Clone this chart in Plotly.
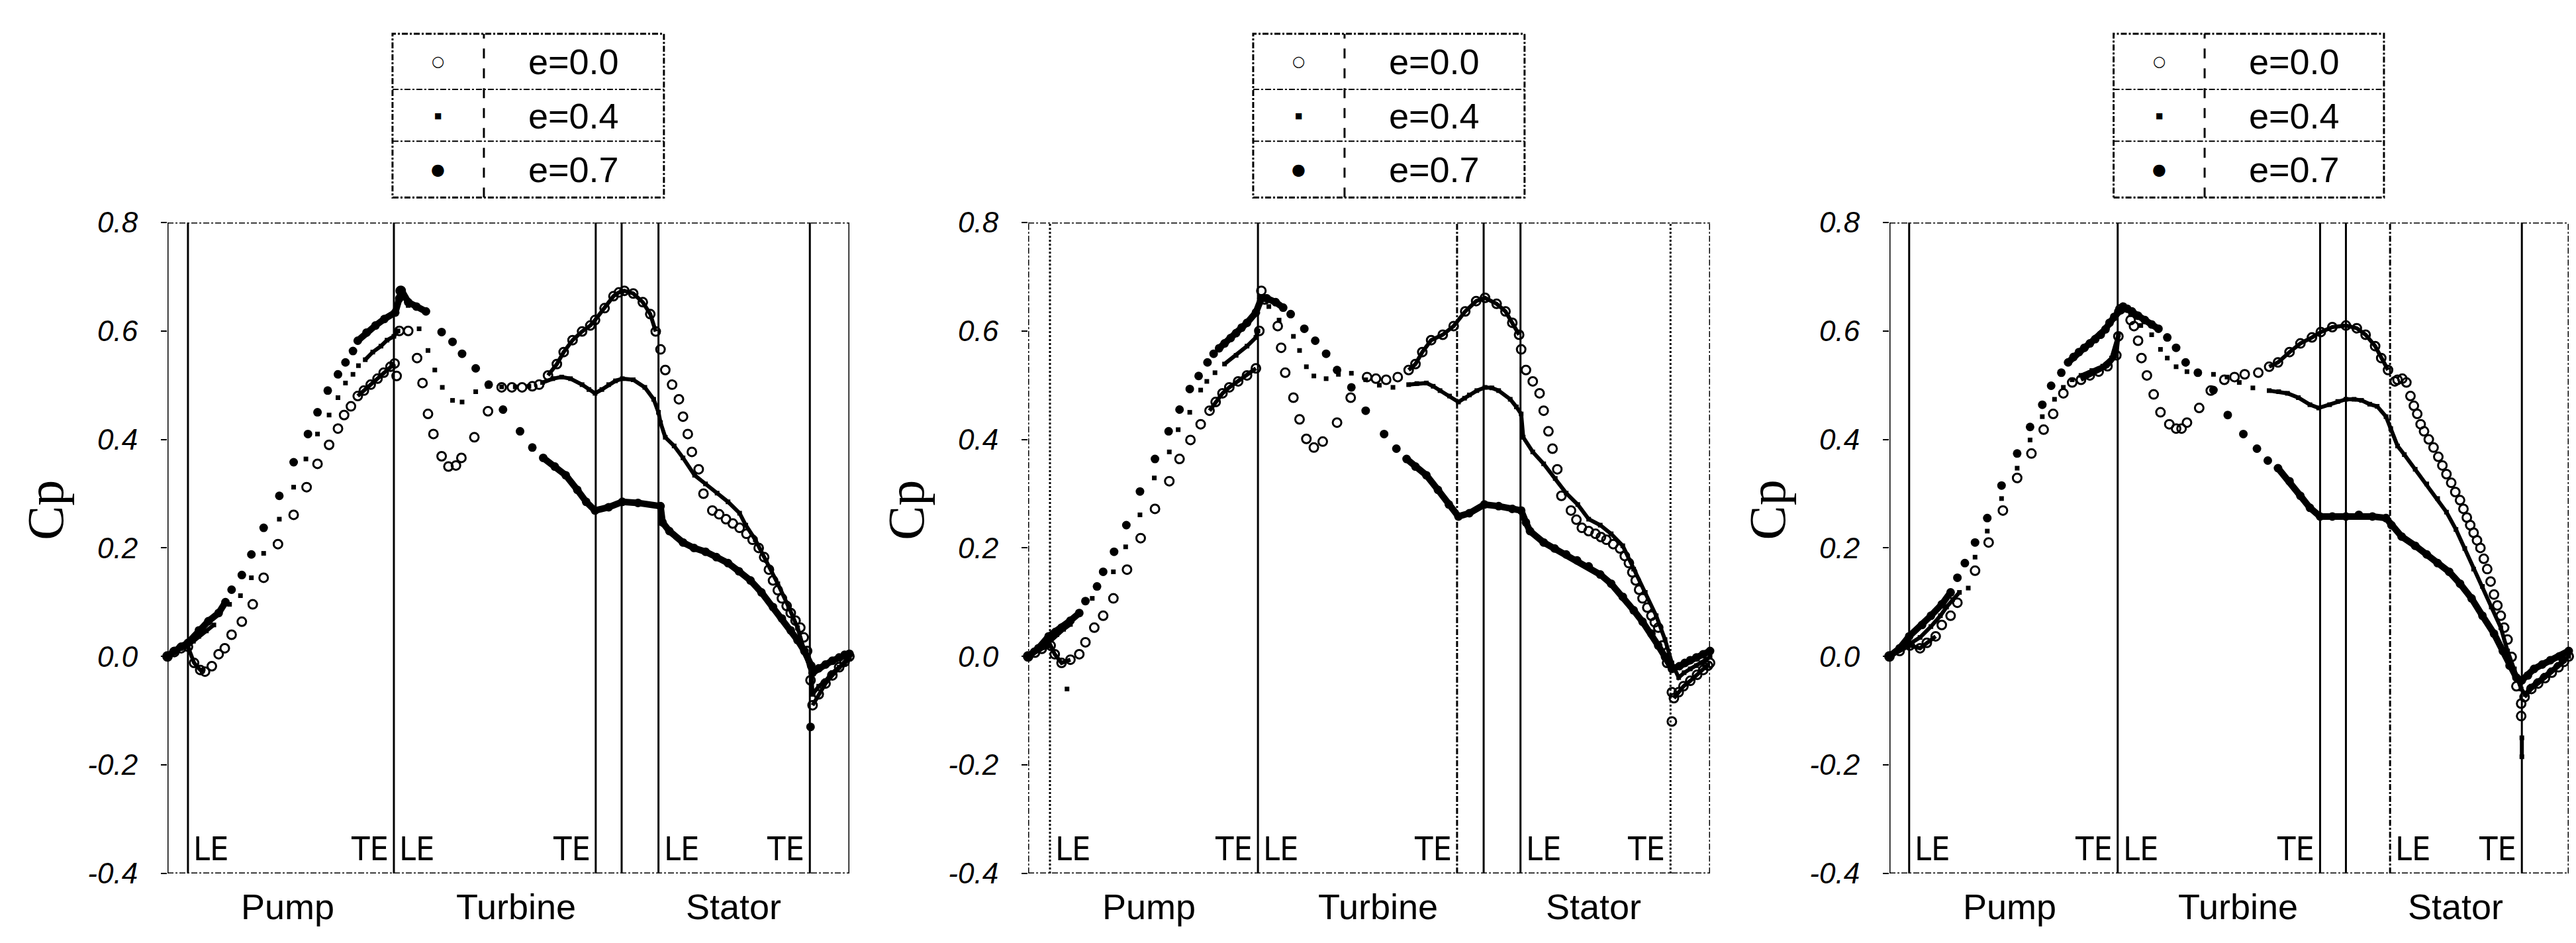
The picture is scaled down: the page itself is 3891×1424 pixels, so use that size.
import plotly.graph_objects as go

# ---------------- data (x = position along flow path, 0..100 ; y = Cp) ----------------
SERIES_NAMES = ["e=0.0", "e=0.4", "e=0.7"]
YTICK_VALS = [0.8, 0.6, 0.4, 0.2, 0.0, -0.2, -0.4]
YTICK_TEXT = ["0.8", "0.6", "0.4", "0.2", "0.0", "-0.2", "-0.4"]
REGION_NAMES = ["Pump", "Turbine", "Stator"]

P1_E00 = [(0,0.0),(1,0.008),(2,0.015),(3,0.018),(3.9,-0.012),(4.8,-0.025),(5.5,-0.028),(6.5,-0.018),(7.5,0.004),(8.4,0.015),(9.4,0.04),(10.9,0.064),(12.5,0.096),(14.1,0.145),(16.2,0.207),(18.5,0.261),(20.4,0.312),(22.0,0.355),(23.7,0.39),(25.0,0.42),(25.9,0.445),(26.9,0.461),(27.9,0.48),(28.8,0.49),(29.8,0.501),(30.8,0.512),(31.7,0.523),(32.7,0.534),(33.3,0.54),(33.6,0.517),(34.0,0.6),(34.2,0.674),(35.3,0.6),(36.6,0.55),(37.4,0.504),(38.2,0.447),(39.0,0.41),(40.2,0.369),(41.2,0.35),(42.3,0.352),(43.1,0.366),(45.0,0.404),(47.0,0.452),(49.0,0.496),(50.5,0.496),(52.0,0.496),(53.5,0.498),(54.5,0.501),(55.8,0.518),(57.1,0.539),(58.1,0.561),(59.4,0.583),(60.8,0.599),(62.0,0.61),(62.7,0.62),(64.1,0.642),(65.4,0.664),(66.2,0.671),(67.0,0.674),(68.3,0.669),(69.7,0.653),(70.8,0.631),(71.6,0.599),(72.3,0.566),(73.0,0.528),(74.0,0.501),(75.0,0.474),(75.6,0.442),(76.3,0.41),(76.9,0.377),(77.9,0.345),(78.6,0.30),(79.9,0.269),(80.9,0.262),(81.9,0.253),(82.9,0.245),(83.9,0.237),(84.9,0.226),(85.8,0.215),(86.7,0.20),(87.5,0.183),(88.2,0.16),(88.8,0.14),(89.5,0.122),(90.1,0.107),(90.8,0.093),(91.4,0.08),(92.1,0.066),(92.8,0.053),(93.3,0.035),(93.8,0.01),(94.3,-0.044),(94.6,-0.09),(95.5,-0.07),(96.5,-0.05),(97.5,-0.035),(98.5,-0.02),(99.3,-0.01),(100,0.0)]
P1_E04 = [(0,0.0),(1,0.008),(2,0.015),(3,0.02),(3.8,0.028),(4.6,0.037),(5.7,0.047),(6.8,0.058),(9.1,0.096),(10.7,0.112),(12.3,0.145),(14.1,0.19),(16.4,0.253),(18.5,0.312),(20.3,0.364),(22.0,0.41),(23.7,0.445),(25.0,0.477),(26.1,0.504),(27.2,0.52),(28.0,0.536),(29.0,0.547),(30.1,0.561),(31.3,0.572),(32.2,0.583),(33.2,0.59),(33.8,0.6),(34.2,0.66),(35.3,0.647),(36.9,0.604),(38.2,0.564),(39.2,0.528),(40.3,0.496),(41.8,0.472),(43.2,0.469),(45.2,0.488),(47.0,0.498),(49.0,0.497),(51.0,0.497),(53.0,0.498),(55.0,0.505),(56.5,0.512),(57.8,0.515),(59.1,0.512),(60.8,0.501),(61.8,0.492),(62.7,0.485),(63.7,0.492),(64.7,0.501),(65.7,0.508),(66.7,0.512),(68.3,0.51),(70.0,0.496),(71.3,0.474),(72.0,0.45),(72.3,0.431),(73.0,0.404),(74.3,0.388),(75.6,0.366),(77.3,0.334),(78.9,0.318),(80.6,0.301),(82.2,0.285),(83.9,0.264),(84.8,0.242),(86.2,0.215),(87.8,0.177),(89.5,0.134),(91.1,0.091),(92.4,0.053),(93.4,0.01),(94.4,-0.03),(94.6,-0.07),(95.5,-0.055),(96.5,-0.045),(97.5,-0.03),(98.5,-0.02),(99.3,-0.012),(100,-0.005)]
P1_E07 = [(0,0.0),(1,0.01),(2,0.018),(3,0.025),(4.6,0.048),(6.0,0.065),(7.5,0.08),(8.5,0.1),(9.4,0.123),(10.9,0.15),(12.3,0.188),(14.1,0.237),(16.4,0.296),(18.5,0.358),(20.6,0.41),(22.0,0.45),(23.5,0.49),(25.0,0.52),(26.1,0.542),(27.2,0.563),(27.9,0.582),(29.2,0.597),(30.5,0.61),(31.8,0.622),(33.4,0.634),(34.0,0.66),(34.3,0.675),(35.3,0.653),(36.5,0.645),(37.9,0.636),(40.2,0.598),(41.8,0.58),(43.2,0.558),(45.2,0.531),(47.1,0.501),(49.2,0.455),(51.7,0.415),(53.5,0.385),(55.1,0.366),(56.8,0.35),(58.4,0.334),(60.1,0.307),(61.4,0.285),(62.7,0.269),(64.7,0.275),(66.7,0.285),(69.0,0.283),(72.3,0.277),(72.6,0.247),(73.6,0.231),(75.6,0.21),(77.2,0.2),(78.9,0.193),(80.5,0.183),(82.2,0.172),(83.8,0.157),(85.5,0.14),(87.1,0.118),(88.8,0.091),(90.1,0.07),(91.4,0.048),(92.4,0.03),(93.4,0.01),(94.4,-0.017),(94.6,-0.03),(95.5,-0.022),(96.5,-0.015),(97.5,-0.008),(98.5,-0.002),(99.3,0.003),(100,0.005),(94.3,-0.13)]

P2_E00 = [(0,0.0),(1,0.007),(2,0.014),(3.3,0.02),(3.9,0.004),(4.9,-0.012),(6.2,-0.006),(7.5,0.004),(8.4,0.026),(9.7,0.053),(11.0,0.075),(12.5,0.107),(14.5,0.16),(16.5,0.218),(18.6,0.272),(20.7,0.323),(22.2,0.364),(23.8,0.399),(25.3,0.428),(26.6,0.453),(27.5,0.469),(28.5,0.485),(29.5,0.496),(30.8,0.507),(32.1,0.518),(33.4,0.531),(33.9,0.6),(34.2,0.674),(34.7,0.658),(36.6,0.609),(37.1,0.569),(37.7,0.523),(38.9,0.477),(39.8,0.437),(40.8,0.401),(41.9,0.385),(43.2,0.396),(45.3,0.431),(47.3,0.477),(49.7,0.515),(51.0,0.512),(52.5,0.51),(54.2,0.515),(55.8,0.528),(56.8,0.539),(57.8,0.561),(59.1,0.583),(60.8,0.593),(62.4,0.609),(64.1,0.636),(65.7,0.655),(67.0,0.661),(68.7,0.65),(70.0,0.636),(71.0,0.615),(72.0,0.593),(72.3,0.566),(73.0,0.528),(74.0,0.507),(75.0,0.485),(75.6,0.453),(76.3,0.415),(76.9,0.383),(77.6,0.345),(78.2,0.296),(79.6,0.269),(80.4,0.252),(81.2,0.237),(82.2,0.231),(83.2,0.226),(84.0,0.22),(84.8,0.215),(85.8,0.207),(86.8,0.199),(87.5,0.185),(88.1,0.172),(88.6,0.155),(89.1,0.14),(89.6,0.123),(90.1,0.107),(90.8,0.09),(91.4,0.075),(91.9,0.063),(92.4,0.053),(93.0,0.02),(93.7,-0.012),(94.4,-0.066),(94.7,-0.077),(95.4,-0.066),(96.1,-0.055),(97.1,-0.045),(98.1,-0.034),(99.0,-0.025),(99.7,-0.017),(100,-0.012),(94.4,-0.12)]
P2_E04 = [(0,0.0),(1,0.01),(2,0.018),(3,0.025),(4.2,0.04),(5.2,0.05),(6.2,0.059),(9.4,0.107),(12.5,0.156),(14.3,0.202),(16.4,0.261),(18.5,0.329),(20.7,0.377),(22.0,0.418),(23.7,0.45),(25.3,0.491),(26.2,0.507),(27.4,0.523),(28.8,0.539),(30.5,0.555),(32.1,0.572),(33.4,0.588),(33.7,0.6),(35.3,0.645),(36.8,0.62),(38.9,0.59),(39.8,0.564),(40.8,0.534),(41.9,0.517),(43.7,0.512),(45.5,0.52),(47.4,0.522),(49.5,0.51),(51.5,0.5),(53.5,0.496),(55.8,0.501),(57.0,0.503),(58.4,0.504),(59.4,0.498),(60.4,0.49),(61.8,0.48),(63.1,0.469),(64.0,0.476),(64.7,0.482),(65.8,0.49),(67.0,0.496),(68.0,0.495),(69.0,0.49),(70.7,0.474),(71.6,0.46),(72.3,0.447),(72.6,0.404),(74.0,0.377),(75.6,0.355),(77.3,0.328),(78.9,0.301),(80.6,0.28),(82.2,0.253),(83.9,0.242),(85.5,0.226),(87.2,0.204),(88.8,0.161),(90.5,0.118),(92.1,0.075),(93.4,0.031),(94.4,-0.012),(95.4,-0.039),(96.2,-0.03),(97.1,-0.023),(98.0,-0.017),(98.7,-0.012),(99.4,-0.006),(100,-0.001),(5.7,-0.06)]
P2_E07 = [(0,0.0),(1.5,0.015),(3.0,0.037),(4.0,0.045),(4.9,0.053),(6.2,0.066),(7.5,0.08),(8.4,0.102),(10.1,0.129),(11.0,0.156),(12.6,0.193),(14.4,0.242),(16.4,0.304),(18.6,0.364),(20.6,0.415),(22.2,0.455),(23.7,0.493),(25.0,0.517),(26.3,0.542),(27.2,0.558),(28.0,0.568),(28.8,0.577),(29.7,0.587),(30.5,0.596),(31.3,0.606),(32.1,0.615),(33.4,0.634),(34.2,0.66),(35.0,0.66),(36.3,0.653),(37.4,0.643),(38.5,0.631),(40.5,0.604),(42.1,0.582),(43.7,0.558),(45.3,0.528),(47.4,0.496),(49.5,0.453),(52.2,0.41),(54.0,0.383),(55.5,0.364),(56.8,0.35),(58.4,0.334),(60.1,0.307),(61.7,0.28),(63.1,0.258),(64.7,0.264),(66.9,0.28),(69.0,0.277),(71.0,0.272),(72.3,0.269),(73.0,0.247),(73.6,0.231),(75.6,0.21),(77.2,0.199),(78.9,0.188),(80.5,0.177),(82.2,0.166),(83.9,0.151),(85.5,0.134),(87.2,0.11),(88.8,0.085),(90.1,0.064),(91.4,0.042),(92.4,0.02),(93.4,-0.001),(94.4,-0.023),(95.5,-0.018),(96.3,-0.012),(97.1,-0.007),(98.0,-0.002),(99.0,0.004),(100,0.01)]

P3_E00 = [(0,0.0),(1.5,0.01),(3.0,0.02),(4.5,0.015),(5.5,0.025),(6.8,0.037),(7.7,0.058),(9.0,0.075),(10.0,0.099),(12.6,0.158),(14.6,0.21),(16.7,0.269),(18.8,0.329),(20.9,0.374),(22.7,0.418),(24.1,0.447),(25.6,0.485),(26.9,0.505),(28.2,0.51),(29.5,0.518),(30.8,0.525),(32.1,0.535),(33.4,0.555),(33.7,0.59),(34.0,0.64),(35.5,0.62),(36.0,0.609),(36.6,0.582),(37.1,0.55),(37.9,0.518),(38.9,0.483),(39.9,0.45),(41.2,0.428),(42.2,0.42),(43.0,0.42),(43.8,0.431),(45.6,0.458),(47.3,0.49),(49.3,0.51),(50.8,0.515),(52.3,0.52),(54.3,0.523),(55.9,0.534),(57.2,0.542),(58.9,0.561),(60.5,0.577),(62.2,0.588),(63.5,0.598),(65.2,0.607),(67.2,0.61),(68.8,0.605),(70.1,0.593),(71.5,0.572),(72.4,0.55),(73.4,0.528),(74.4,0.507),(74.8,0.51),(75.5,0.512),(76.1,0.505),(76.7,0.48),(77.2,0.462),(77.7,0.447),(78.2,0.428),(78.7,0.415),(79.4,0.4),(80.1,0.385),(80.8,0.368),(81.4,0.352),(82.0,0.336),(82.7,0.32),(83.3,0.303),(84.0,0.288),(84.5,0.272),(85.0,0.256),(85.5,0.242),(86.0,0.228),(86.5,0.214),(87.0,0.2),(87.5,0.18),(88.0,0.161),(88.5,0.138),(89.0,0.114),(89.5,0.094),(90.0,0.075),(90.5,0.053),(91.0,0.031),(91.6,-0.001),(92.3,-0.055),(93.0,-0.087),(93.5,-0.075),(94.5,-0.06),(95.5,-0.05),(96.5,-0.04),(97.5,-0.03),(98.5,-0.02),(99.3,-0.01),(100,0.0),(93.0,-0.11)]
P3_E04 = [(0,0.0),(1.5,0.012),(3.0,0.022),(4.5,0.035),(6.1,0.055),(7.5,0.075),(8.4,0.091),(9.3,0.105),(10.3,0.118),(11.6,0.126),(12.6,0.183),(14.4,0.231),(16.5,0.291),(18.8,0.347),(20.7,0.399),(22.5,0.442),(24.3,0.474),(25.6,0.496),(26.9,0.51),(28.2,0.518),(29.8,0.527),(31.4,0.535),(32.7,0.55),(33.7,0.593),(34.3,0.645),(35.5,0.63),(37.0,0.61),(38.6,0.593),(39.9,0.566),(40.9,0.55),(42.2,0.534),(43.8,0.525),(45.6,0.523),(47.7,0.52),(49.7,0.515),(51.5,0.505),(53.5,0.495),(55.9,0.49),(57.3,0.488),(58.6,0.485),(60.2,0.477),(61.9,0.464),(63.2,0.458),(64.8,0.464),(66.0,0.47),(67.2,0.474),(68.4,0.474),(69.5,0.472),(70.7,0.465),(71.8,0.461),(73.1,0.442),(73.8,0.42),(74.8,0.388),(75.8,0.372),(77.4,0.345),(79.1,0.318),(80.7,0.291),(82.0,0.266),(83.4,0.234),(84.7,0.199),(86.0,0.161),(87.3,0.129),(88.6,0.091),(90.0,0.053),(91.0,0.01),(92.0,-0.023),(93.0,-0.06),(93.6,-0.07),(94.5,-0.055),(95.5,-0.045),(96.5,-0.035),(97.5,-0.025),(98.5,-0.015),(99.3,-0.008),(100,0.0),(93.1,-0.15),(93.1,-0.185)]
P3_E07 = [(0,0.0),(1.5,0.015),(2.9,0.037),(4.8,0.058),(6.1,0.075),(7.7,0.096),(9.0,0.118),(10.0,0.145),(11.1,0.172),(12.6,0.21),(14.4,0.255),(16.5,0.315),(18.8,0.374),(20.7,0.423),(22.5,0.464),(23.8,0.499),(25.3,0.523),(26.3,0.542),(27.1,0.552),(27.9,0.561),(28.7,0.569),(29.5,0.577),(30.3,0.585),(31.1,0.593),(31.8,0.603),(32.4,0.615),(33.1,0.626),(33.7,0.636),(34.4,0.645),(35.0,0.641),(35.7,0.636),(36.6,0.628),(37.6,0.62),(38.6,0.612),(39.6,0.604),(40.9,0.588),(42.2,0.569),(43.6,0.542),(45.4,0.523),(47.7,0.491),(49.8,0.445),(52.1,0.41),(54.1,0.383),(55.7,0.361),(57.2,0.347),(58.9,0.323),(60.5,0.296),(61.9,0.274),(63.4,0.258),(65.2,0.258),(67.2,0.258),(69.1,0.261),(71.1,0.258),(73.1,0.255),(73.9,0.242),(75.4,0.221),(77.4,0.204),(79.1,0.188),(80.7,0.172),(82.4,0.156),(84.0,0.134),(85.7,0.107),(87.3,0.075),(89.0,0.042),(90.3,0.01),(91.3,-0.017),(92.3,-0.039),(93.1,-0.044),(94.0,-0.035),(94.9,-0.023),(96.1,-0.015),(97.3,-0.007),(98.6,0.0),(100,0.01)]

PANELS = [[P1_E00, P1_E04, P1_E07], [P2_E00, P2_E04, P2_E07], [P3_E00, P3_E04, P3_E07]]

# blade lines: pump LE, pump TE / turbine LE, turbine TE, gap, stator LE, stator TE
BLADE_X = [[3.0, 33.2, 62.8, 66.6, 72.0, 94.2],
           [3.2, 33.7, 62.9, 66.8, 72.2, 94.2],
           [2.9, 33.6, 63.4, 67.2, 73.7, 93.1]]
REGION_X = [[17.6, 51.1, 83.0], [17.7, 51.3, 82.9], [17.7, 51.3, 83.3]]

# ---------------- styling ----------------
# x-ranges in which the markers are so dense that they merge into a thick trace
DENSE = [
    [[(0, 5.5), (27.9, 33.3), (55.8, 71.6), (94.6, 100)], [(0, 6.8), (29.0, 33.8), (55.0, 100)], [(0, 8.5), (27.9, 37.9), (55.1, 100)]],
    [[(0, 6.2), (26.6, 33.4), (55.8, 72.0), (94.7, 100)], [(0, 6.2), (28.8, 33.7), (55.8, 100)], [(0, 7.5), (28.0, 37.4), (55.5, 100)]],
    [[(0, 6.8), (28.2, 33.7), (55.9, 73.4), (93.5, 100)], [(0, 10.3), (28.2, 33.7), (55.9, 100)], [(0, 9.0), (26.3, 39.6), (57.2, 100)]],
]
LINE_W = [6, 6, 10]
MARKERS = [dict(symbol="circle-open", size=13, color="black", line=dict(width=3, color="black")),
           dict(symbol="square", size=7, color="black"),
           dict(symbol="circle", size=13, color="black")]
AXIS_DASH = [("solid", "solid"), ("dashdot", "dashdot"), ("solid", "dashdot")]
BLADE_DASH = [["solid"] * 6,
              ["dot", "solid", "dashdot", "solid", "solid", "dot"],
              ["solid", "solid", "solid", "solid", "dashdot", "solid"]]

W, H = 3891, 1424
AX_PX = [(253, 1283), (1553, 2583), (2854, 3880)]
Y_DOM = [1 - 1340 / H, 1 - 322 / H]
LEG_TOP, LEG_R1, LEG_R2, LEG_BOT = 1 - 27 / H, 1 - 114 / H, 1 - 195 / H, 1 - 283 / H
LEG_X0, LEG_XC, LEG_X1 = 0.330, 0.464, 0.728
LEG_ROWS = [1 - 70 / H, 1 - 155 / H, 1 - 239 / H]
LEG_SYM = [("○", 22), ("■", 12), ("●", 24)]

SANS = "Liberation Sans, Arial, sans-serif"
NARROW = "Liberation Sans Narrow, DejaVu Sans Condensed, Liberation Sans, sans-serif"


def dense_path(xs, ys, ranges):
    lx, ly, prev = [], [], None
    for i, (x, y) in enumerate(zip(xs, ys)):
        k = next((n for n, (a, b) in enumerate(ranges) if a <= x <= b), None)
        if i > 0 and k is not None and k == prev and x >= xs[i - 1]:
            lx.append(x); ly.append(y)
        else:
            lx += [None, x]; ly += [None, y]
        prev = k
    return lx, ly


fig = go.Figure()
shapes, annos = [], []
layout = {}
for i in range(3):
    xr = "x" if i == 0 else f"x{i + 1}"
    yr = "y" if i == 0 else f"y{i + 1}"
    xk = "xaxis" if i == 0 else f"xaxis{i + 1}"
    yk = "yaxis" if i == 0 else f"yaxis{i + 1}"
    layout[xk] = dict(domain=[AX_PX[i][0] / W, AX_PX[i][1] / W], range=[0, 100], anchor=yr,
                      showticklabels=False, ticks="", showgrid=False, zeroline=False, showline=False)
    layout[yk] = dict(domain=Y_DOM, range=[-0.4, 0.8], anchor=xr, tickvals=YTICK_VALS, ticktext=YTICK_TEXT,
                      ticks="outside", ticklen=9, tickwidth=2, tickcolor="black", ticklabelstandoff=26,
                      showgrid=False, zeroline=False, showline=False,
                      tickfont=dict(family=SANS, size=44, color="black", style="italic"))

    for j, pts in enumerate(PANELS[i]):
        xs = [p[0] for p in pts]
        ys = [p[1] for p in pts]
        lx, ly = dense_path(xs, ys, DENSE[i][j])
        fig.add_trace(go.Scatter(x=lx, y=ly, mode="lines", xaxis=xr, yaxis=yr, showlegend=False,
                                 hoverinfo="skip", cliponaxis=False,
                                 line=dict(color="black", width=LINE_W[j])))
        fig.add_trace(go.Scatter(x=xs, y=ys, mode="markers", xaxis=xr, yaxis=yr, name=SERIES_NAMES[j],
                                 showlegend=False, cliponaxis=False, marker=MARKERS[j]))

    # frame
    for xv, d in zip([0, 100], AXIS_DASH[i]):
        shapes.append(dict(type="line", xref=xr, yref=f"{yr} domain", x0=xv, x1=xv, y0=0, y1=1,
                           line=dict(color="black", width=3, dash=d)))
    for yv in [0.8, -0.4]:
        shapes.append(dict(type="line", xref=f"{xr} domain", yref=yr, x0=0, x1=1, y0=yv, y1=yv,
                           line=dict(color="black", width=3, dash="dashdot")))
    for xv, d in zip(BLADE_X[i], BLADE_DASH[i]):
        shapes.append(dict(type="line", xref=xr, yref=f"{yr} domain", x0=xv, x1=xv, y0=0, y1=1,
                           line=dict(color="black", width=3, dash=d)))

    # LE / TE labels
    bx = BLADE_X[i]
    for xv, txt, anc in [(bx[0], "LE", "left"), (bx[1], "TE", "right"), (bx[1], "LE", "left"),
                         (bx[2], "TE", "right"), (bx[4], "LE", "left"), (bx[5], "TE", "right")]:
        annos.append(dict(xref=xr, yref=yr, x=xv + (0.6 if anc == "left" else -0.6), y=-0.4,
                          xanchor=anc, yanchor="bottom", yshift=6, showarrow=False, text=txt,
                          font=dict(family=NARROW, size=50, color="black")))
    for xv, txt in zip(REGION_X[i], REGION_NAMES):
        annos.append(dict(xref=xr, yref=yr, x=xv, y=-0.4, xanchor="center", yanchor="middle", yshift=-50,
                          showarrow=False, text=txt, font=dict(family=SANS, size=54, color="black")))

    # axis title
    annos.append(dict(xref=f"{xr} domain", yref=yr, x=-0.18, y=0.27, xanchor="center", yanchor="middle",
                      textangle=-90, showarrow=False, text="Cp",
                      font=dict(family="Liberation Serif, Times New Roman, serif", size=78, color="black")))

    # table-style legend
    shapes.append(dict(type="rect", xref=f"{xr} domain", yref="paper", x0=LEG_X0, x1=LEG_X1,
                       y0=LEG_BOT, y1=LEG_TOP, line=dict(color="black", width=3, dash="dashdot")))
    for yv in [LEG_R1, LEG_R2]:
        shapes.append(dict(type="line", xref=f"{xr} domain", yref="paper", x0=LEG_X0, x1=LEG_X1,
                           y0=yv, y1=yv, line=dict(color="black", width=2, dash="dashdot")))
    shapes.append(dict(type="line", xref=f"{xr} domain", yref="paper", x0=LEG_XC, x1=LEG_XC,
                       y0=LEG_BOT, y1=LEG_TOP, line=dict(color="black", width=3, dash="longdash")))
    for j in range(3):
        sym, sz = LEG_SYM[j]
        annos.append(dict(xref=f"{xr} domain", yref="paper", x=(LEG_X0 + LEG_XC) / 2, y=LEG_ROWS[j],
                          xanchor="center", yanchor="middle", showarrow=False, text=sym,
                          font=dict(family="DejaVu Sans", size=sz, color="black")))
        annos.append(dict(xref=f"{xr} domain", yref="paper", x=(LEG_XC + LEG_X1) / 2, y=LEG_ROWS[j],
                          xanchor="center", yanchor="middle", showarrow=False, text=SERIES_NAMES[j],
                          font=dict(family=SANS, size=54, color="black")))

fig.update_layout(width=W, height=H, margin=dict(l=0, r=0, t=0, b=0), paper_bgcolor="white",
                  plot_bgcolor="white", showlegend=False, shapes=shapes, annotations=annos, **layout)

fig.write_html("out.html", post_script="document.body.style.margin='0';")
